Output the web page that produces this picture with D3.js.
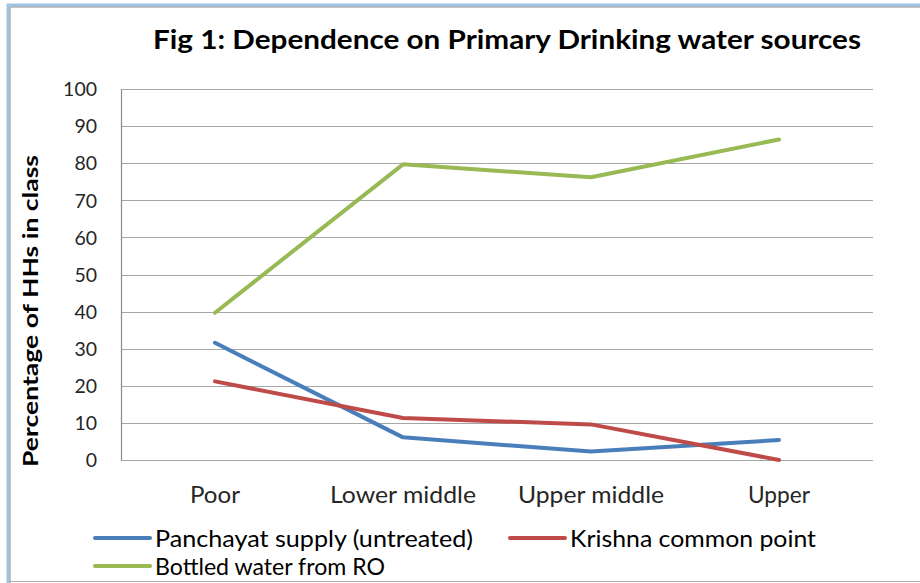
<!DOCTYPE html>
<html>
<head>
<meta charset="utf-8">
<script src="https://cdn.jsdelivr.net/npm/d3@7"></script>
<style>
  body { margin: 0; background: #fff; }
  svg { display: block; font-family: Lato, "Open Sans", sans-serif; }
</style>
</head>
<body>
<svg id="chart" width="920" height="583"></svg>
<script>
// data
var categories = ["Poor", "Lower middle", "Upper middle", "Upper"];
var panchayat = [31.6, 6.1, 2.3, 5.4];
var krishna = [21.2, 11.3, 9.6, 0];
var bottled = [39.7, 79.7, 76.2, 86.4];
var seriesNames = ["Panchayat supply (untreated)", "Krishna common point", "Bottled water from RO"];
var seriesColors = ["#4a7ebb", "#be4b48", "#98b954"];
var yTicks = [0, 10, 20, 30, 40, 50, 60, 70, 80, 90, 100];

var svg = d3.select("#chart");

// outer frame of the chart object
svg.append("path").attr("d", "M8,583 V5 H920").attr("fill", "none")
    .attr("stroke", "#9dc3e6").attr("stroke-width", 3);
svg.append("path").attr("d", "M10,583 V7 H920").attr("fill", "none")
    .attr("stroke", "#8c8c8c").attr("stroke-width", 1);
svg.append("line").attr("x1", 10).attr("x2", 920).attr("y1", 581.5).attr("y2", 581.5)
    .attr("stroke", "#b0b0b0").attr("stroke-width", 1);

var plot = {left: 121, right: 873, top: 89, bottom: 460};

var x = d3.scaleBand().domain(categories).range([plot.left, plot.right]);
var y = d3.scaleLinear().domain([0, 100]).range([plot.bottom, plot.top]);

// gridlines
svg.append("g").selectAll("line").data(yTicks).enter().append("line")
    .attr("x1", plot.left).attr("x2", plot.right)
    .attr("y1", function(d){ return Math.round(y(d)) + 0.5; })
    .attr("y2", function(d){ return Math.round(y(d)) + 0.5; })
    .attr("stroke", "#a6a6a6").attr("stroke-width", 1.2);

// y axis line
svg.append("line").attr("x1", plot.left + 0.5).attr("x2", plot.left + 0.5)
    .attr("y1", plot.top).attr("y2", plot.bottom + 0.5)
    .attr("stroke", "#8c8c8c").attr("stroke-width", 1.2);

// y tick labels
svg.append("g").selectAll("text").data(yTicks).enter().append("text")
    .attr("x", 97).attr("y", function(d){ return y(d); })
    .attr("dy", "0.36em").attr("text-anchor", "end")
    .attr("font-size", 20).attr("fill", "#262626")
    .attr("textLength", function(d){ return String(d).length * 11.3; })
    .attr("lengthAdjust", "spacingAndGlyphs")
    .text(function(d){ return d; });

// category labels
var catWidths = [50, 146, 146, 62];
svg.append("g").selectAll("text").data(categories).enter().append("text")
    .attr("x", function(d){ return x(d) + x.bandwidth()/2; })
    .attr("y", 503).attr("text-anchor", "middle")
    .attr("font-size", 24).attr("fill", "#262626")
    .attr("textLength", function(d, i){ return catWidths[i]; })
    .attr("lengthAdjust", "spacingAndGlyphs")
    .text(function(d){ return d; });

// y axis title
svg.append("text")
    .attr("transform", "translate(38,311) rotate(-90)")
    .attr("text-anchor", "middle").attr("font-size", 21).attr("font-weight", "bold")
    .attr("fill", "#000")
    .attr("textLength", 312).attr("lengthAdjust", "spacingAndGlyphs")
    .text("Percentage of HHs in class");

// title
svg.append("text")
    .attr("x", 507).attr("y", 49).attr("text-anchor", "middle")
    .attr("font-size", 26).attr("font-weight", "bold").attr("fill", "#000")
    .attr("textLength", 708).attr("lengthAdjust", "spacingAndGlyphs")
    .text("Fig 1: Dependence on Primary Drinking water sources");

// series lines
var allSeries = [panchayat, krishna, bottled];
var line = d3.line()
    .x(function(d, i){ return x(categories[i]) + x.bandwidth()/2; })
    .y(function(d){ return y(d); });

svg.append("g").selectAll("path").data(allSeries).enter().append("path")
    .attr("d", line).attr("fill", "none")
    .attr("stroke", function(d, i){ return seriesColors[i]; })
    .attr("stroke-width", 4).attr("stroke-linejoin", "round").attr("stroke-linecap", "round");

// legend
var legendPos = [{x: 95, y: 538}, {x: 510, y: 538}, {x: 95, y: 566}];
var legendWidths = [318, 246, 230];
var lg = svg.append("g").selectAll("g").data(seriesNames).enter().append("g")
    .attr("transform", function(d, i){ return "translate(" + legendPos[i].x + "," + legendPos[i].y + ")"; });
lg.append("line").attr("x1", 0).attr("x2", 55).attr("y1", 0).attr("y2", 0)
    .attr("stroke", function(d, i){ return seriesColors[i]; })
    .attr("stroke-width", 4).attr("stroke-linecap", "round");
lg.append("text").attr("x", 60).attr("y", 9)
    .attr("font-size", 24).attr("fill", "#000")
    .attr("textLength", function(d, i){ return legendWidths[i]; })
    .attr("lengthAdjust", "spacingAndGlyphs")
    .text(function(d){ return d; });
</script>
</body>
</html>
